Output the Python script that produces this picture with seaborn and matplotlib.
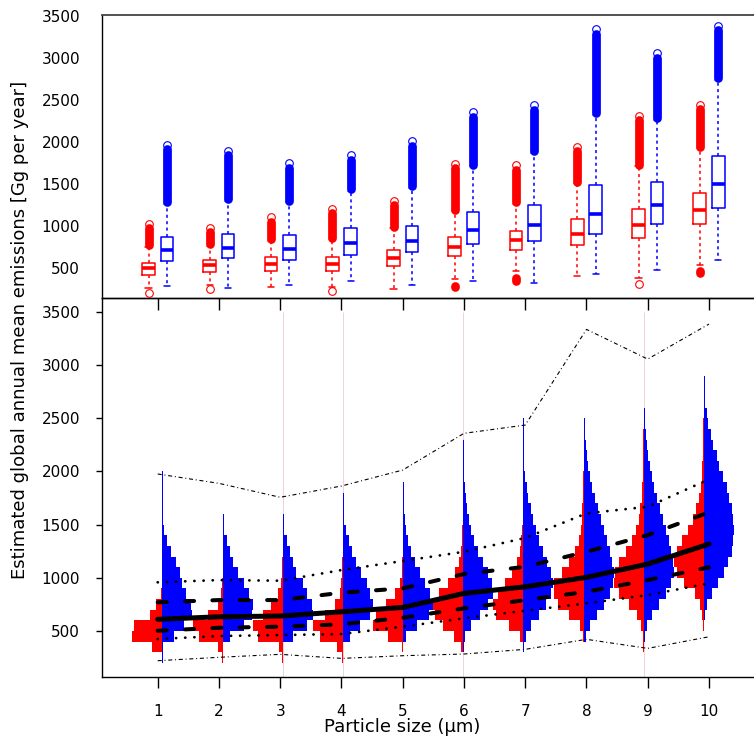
import numpy as np
import matplotlib
matplotlib.use("Agg")
import matplotlib.pyplot as plt
import seaborn as sns

# ---------------------------------------------------------------- data
sizes = [1, 2, 3, 4, 5, 6, 7, 8, 9, 10]
BIN = 100  # histogram bin width (Gg per year)

# lowest bin edge of each histogram
red_start = [200, 200, 200, 200, 200, 200, 300, 400, 300, 400]
blue_start = [200, 200, 300, 300, 300, 300, 300, 400, 400, 500]

# relative bin heights, consecutive 100 Gg bins upward from the start edge
red_h1 = [0.5, 10.7, 29.7, 27.7, 12, 6, 1.5, 0.8, 0.4]
red_h2 = [0.4, 4.3, 23.7, 30, 14.3, 5, 1.5, 0.6]
red_h3 = [0.4, 3.3, 25, 30, 20, 12, 5, 2, 1, 0.5]
red_h4 = [0.5, 5.7, 23.3, 30, 18.3, 8.3, 3.3, 1.5, 0.8, 0.5, 0.3]
red_h5 = [0.3, 1.5, 14.7, 30, 27, 17, 8, 3.5, 1.5, 0.8, 0.5, 0.3]
red_h6 = [0.3, 2, 9, 20, 28, 30, 24, 15, 8, 4, 2, 1.3, 0.8, 0.5, 0.4, 0.3]
red_h7 = [0.5, 3, 14, 27, 30, 25, 18, 11, 6, 3.5, 2, 1.3, 0.8, 0.5, 0.3]
red_h8 = [1, 4, 14.7, 25.7, 30, 30, 21.3, 14.7, 9, 5, 3, 2, 1.3, 0.8, 0.5, 0.3]
red_h9 = [0.3, 0.5, 3, 7, 15, 25, 30, 29, 25, 18, 12, 8, 5, 3.2, 2, 1.3,
          0.9, 0.6, 0.4, 0.3, 0.2]
red_h10 = [0.3, 0.5, 2, 4, 9, 20, 27, 30, 27, 22, 16, 11, 7.5, 5, 3.3, 2.2,
           1.5, 1, 0.7, 0.5, 0.35]

blue_h1 = [0.3, 1, 12, 22, 30, 29, 24, 20, 18, 14, 9, 5, 1.2, 0.8, 0.6, 0.5,
           0.4, 0.3]
blue_h2 = [0.3, 0.8, 7, 21, 29, 30, 26, 21, 15, 10, 7, 4, 1.6, 1.0, 0.6,
           0.4, 0.3]
blue_h3 = [0.7, 10, 24, 30, 29, 24, 20, 13, 10.7, 7.3, 4, 1.4, 0.8, 0.5, 0.35]
blue_h4 = [0.5, 6.7, 17, 27, 30, 27, 24, 18, 13, 9, 6, 3.3, 1.5, 0.9, 0.6,
           0.4]
blue_h5 = [0.3, 3, 14, 26, 30, 27, 22, 17, 12, 8, 5, 3, 1.6, 1.0, 0.7, 0.5,
           0.3, 0.2]
blue_h6 = [0.3, 2, 8, 17, 25, 30, 29, 25, 20, 15, 11, 8, 5.5, 4, 2.8, 1.6,
           1.0, 0.7, 0.5, 0.35, 0.25]
blue_h7 = [0.3, 3, 8, 16, 23, 28, 30, 28, 24, 20, 16, 12.5, 10, 7.5, 5, 3.3,
           2, 1.1, 0.7, 0.5, 0.3, 0.2]
blue_h8 = [2, 6, 13, 20, 26, 29, 30, 28, 26, 23, 20, 17, 14, 11, 8.7, 6.7,
           4.8, 3.4, 2.4, 1.5, 1.0, 0.8, 0.6, 0.5, 0.4, 0.3, 0.25, 0.2, 0.15,
           0.1]
blue_h9 = [1, 3, 8, 15, 22, 27, 30, 29, 27, 25, 22, 19, 16, 13, 10, 8, 6,
           4.5, 3.3, 2.2, 1.5, 1.0, 0.8, 0.6, 0.5, 0.35, 0.25]
blue_h10 = [0.5, 1.5, 3.5, 7.7, 14.3, 20, 24.3, 27.7, 29.3, 30, 29.3, 27.7,
            25.3, 22.7, 19.3, 15.3, 12.7, 9.3, 6.7, 4.3, 2.7, 1.6, 1.1, 0.8,
            0.6, 0.5, 0.4, 0.3, 0.2]

red_hists = [red_h1, red_h2, red_h3, red_h4, red_h5,
             red_h6, red_h7, red_h8, red_h9, red_h10]
blue_hists = [blue_h1, blue_h2, blue_h3, blue_h4, blue_h5,
              blue_h6, blue_h7, blue_h8, blue_h9, blue_h10]

# summary curves across particle sizes
curve_median = [610, 634, 641, 681, 722, 854, 916, 1005, 1130, 1318]
curve_q_hi = [770, 791, 791, 860, 901, 1036, 1104, 1245, 1402, 1616]
curve_q_lo = [503, 531, 541, 563, 625, 713, 791, 869, 979, 1099]
curve_p_hi = [958, 979, 973, 1073, 1158, 1245, 1375, 1606, 1668, 1926]
curve_p_lo = [425, 453, 462, 472, 541, 620, 691, 760, 838, 948]
curve_max = [1976, 1888, 1757, 1863, 2013, 2358, 2436, 3335, 3056, 3385]
curve_min = [221, 253, 281, 243, 268, 284, 328, 422, 337, 446]

# box statistics, red series
red_q1 = [425, 456, 473, 473, 527, 646, 722, 772, 856, 1025]
red_med = [508, 536, 548, 556, 623, 754, 833, 912, 1015, 1192]
red_q3 = [568, 603, 635, 635, 722, 868, 947, 1081, 1210, 1396]
red_wlo = [262, 300, 274, 282, 258, 370, 470, 409, 385, 545]
red_out_lo = [775, 787, 847, 866, 997, 1196, 1283, 1531, 1734, 1948]
red_out_hi = [1026, 978, 1105, 1208, 1304, 1740, 1724, 1941, 2311, 2445]
red_low_out_a = [210, 250, None, 230, None, 280, 350, None, 318, 440]
red_low_out_b = [210, 250, None, 230, None, 290, 385, None, 318, 470]

# box statistics, blue series
blue_q1 = [586, 618, 603, 663, 690, 795, 825, 906, 1029, 1214]
blue_med = [717, 746, 730, 806, 825, 960, 1014, 1150, 1257, 1499]
blue_q3 = [873, 903, 891, 984, 1008, 1171, 1258, 1485, 1532, 1833]
blue_wlo = [288, 266, 300, 345, 300, 352, 327, 430, 485, 595]
blue_out_lo = [1290, 1322, 1306, 1441, 1480, 1733, 1892, 2343, 2282, 2761]
blue_out_hi = [1969, 1900, 1747, 1842, 2011, 2356, 2439, 3340, 3055, 3380]

# sizes whose red sample carries a faint full-height trace
trace_sizes = [3, 4, 6, 9]

RED = "#ff0000"
BLUE = "#0000ff"

# ---------------------------------------------------------------- style
sns.set_theme(style="ticks")
plt.rcParams.update({
    "font.family": ["DejaVu Sans"],
    "lines.scale_dashes": False,
    "axes.edgecolor": "black",
    "axes.linewidth": 1.0,
    "xtick.color": "black",
    "ytick.color": "black",
    "text.color": "black",
    "axes.labelcolor": "black",
    "xtick.labelsize": 11,
    "ytick.labelsize": 11,
})

W, H = 754, 738
fig = plt.figure(figsize=(W / 100, H / 100), dpi=100)

left = 102 / W
width = 1.0 - left
ax_bot = fig.add_axes([left, 1 - 677 / H, width, (677 - 298) / H])
ax_top = fig.add_axes([left, 1 - 298 / H, width, (298 - 15) / H])
ax_top.set_zorder(3)
ax_top.patch.set_alpha(0)

XLIM = (0.0907, 10.735)

# ---------------------------------------------------------------- lower panel
HALF = 0.49  # widest bin of each half-histogram, in axis units
centers = np.asarray(sizes) * 0.982 + 0.096

ax_bot.vlines([centers[s - 1] for s in trace_sizes], 68, 3500,
              color="#efd0e2", lw=0.7, zorder=0.5)

for i in range(len(sizes)):
    c = centers[i]
    for hist, start, sign, col in ((red_hists[i], red_start[i], -1, RED),
                                   (blue_hists[i], blue_start[i], 1, BLUE)):
        w = np.asarray(hist, dtype=float)
        w = w / w.max() * HALF
        edges = start + BIN * np.arange(len(w) + 1)
        xs = np.append(w, w[-1])
        ax_bot.fill_betweenx(edges, c, c + sign * xs, step="post",
                             color=col, lw=0, zorder=1)

line_specs = [
    (curve_median, dict(lw=3.6, linestyle="-", solid_capstyle="round")),
    (curve_q_hi, dict(lw=2.9, linestyle=(0, (6.5, 13.2)), dash_capstyle="round")),
    (curve_q_lo, dict(lw=2.9, linestyle=(0, (6.5, 13.2)), dash_capstyle="round")),
    (curve_p_hi, dict(lw=2.0, linestyle=(0, (0.1, 6.5)), dash_capstyle="round")),
    (curve_p_lo, dict(lw=2.0, linestyle=(0, (0.1, 6.5)), dash_capstyle="round")),
    (curve_max, dict(lw=0.8, linestyle=(0, (2.9, 2.0, 0.7, 2.0)))),
    (curve_min, dict(lw=0.8, linestyle=(0, (2.9, 2.0, 0.7, 2.0)))),
]
for vals, kw in line_specs:
    sns.lineplot(x=sizes, y=vals, ax=ax_bot, color="black", zorder=3, **kw)

ax_bot.set_xlim(*XLIM)
ax_bot.set_ylim(68, 3630)
ax_bot.set_xticks(sizes)
ax_bot.set_xticklabels([str(s) for s in sizes])
ax_bot.set_yticks(range(500, 3501, 500))
ax_bot.tick_params(axis="x", direction="out", length=7.9, width=1.0, pad=11.9)
ax_bot.tick_params(axis="y", direction="out", length=4.3, width=1.0, pad=11.5)
ax_bot.spines["right"].set_visible(False)
ax_bot.set_xlabel("")
ax_bot.set_ylabel("")

# ---------------------------------------------------------------- upper panel
OFF = 0.15
R_TOP = 52          # flier marker radius in data units
COL_LW = 6.3        # flier column width (pt)
RING_MS, RING_MEW = 5.5, 0.8


def draw_series(ax, pos, q1, med, q3, wlo, out_lo, out_hi, col):
    stats = []
    for a, m, b, lo, ol in zip(q1, med, q3, wlo, out_lo):
        stats.append(dict(q1=a, med=m, q3=b, whislo=lo, whishi=ol - 20,
                          fliers=[]))
    ax.bxp(stats, positions=pos, widths=0.207, showfliers=False,
           capwidths=0.1, manage_ticks=False,
           boxprops=dict(color=col, lw=1.1),
           medianprops=dict(color=col, lw=2.6, solid_capstyle="butt"),
           whiskerprops=dict(color=col, lw=1.1, linestyle=(0, (2.2, 2.4))),
           capprops=dict(color=col, lw=1.1))
    for p, lo, hi in zip(pos, out_lo, out_hi):
        ax.plot([p, p], [lo, hi - R_TOP], color=col, lw=COL_LW,
                solid_capstyle="round", zorder=3)
        ax.plot([p], [hi], marker="o", ms=RING_MS, mew=RING_MEW, mfc="none",
                mec=col, zorder=4)


pos_red = [s - OFF for s in sizes]
pos_blue = [s + OFF for s in sizes]
draw_series(ax_top, pos_red, red_q1, red_med, red_q3, red_wlo,
            red_out_lo, red_out_hi, RED)
draw_series(ax_top, pos_blue, blue_q1, blue_med, blue_q3, blue_wlo,
            blue_out_lo, blue_out_hi, BLUE)

for p, a, b in zip(pos_red, red_low_out_a, red_low_out_b):
    if a is None:
        continue
    if b > a:
        ax_top.plot([p, p], [a, b], color=RED, lw=COL_LW,
                    solid_capstyle="round", zorder=3)
    else:
        ax_top.plot([p], [a], marker="o", ms=RING_MS, mew=RING_MEW,
                    mfc="none", mec=RED, zorder=4)

ax_top.set_xlim(*XLIM)
ax_top.set_ylim(147, 3512)
ax_top.set_xticks(sizes)
ax_top.set_yticks(range(500, 3501, 500))
ax_top.tick_params(axis="x", direction="out", length=8.6, width=1.0,
                   labelbottom=False)
ax_top.tick_params(axis="y", length=0, pad=15.8)
ax_top.spines["right"].set_visible(False)
ax_top.spines["top"].set_color("#444444")
ax_top.spines["top"].set_linewidth(1.3)

# ---------------------------------------------------------------- labels
fig.text(20.5 / W, 1 - 330 / H,
         "Estimated global annual mean emissions [Gg per year]",
         rotation=90, ha="center", va="center", fontsize=13)
fig.text(402 / W, 1 - 732.5 / H, "Particle size (\u00b5m)",
         ha="center", va="baseline", fontsize=13)

fig.savefig("out.png", dpi=100)
